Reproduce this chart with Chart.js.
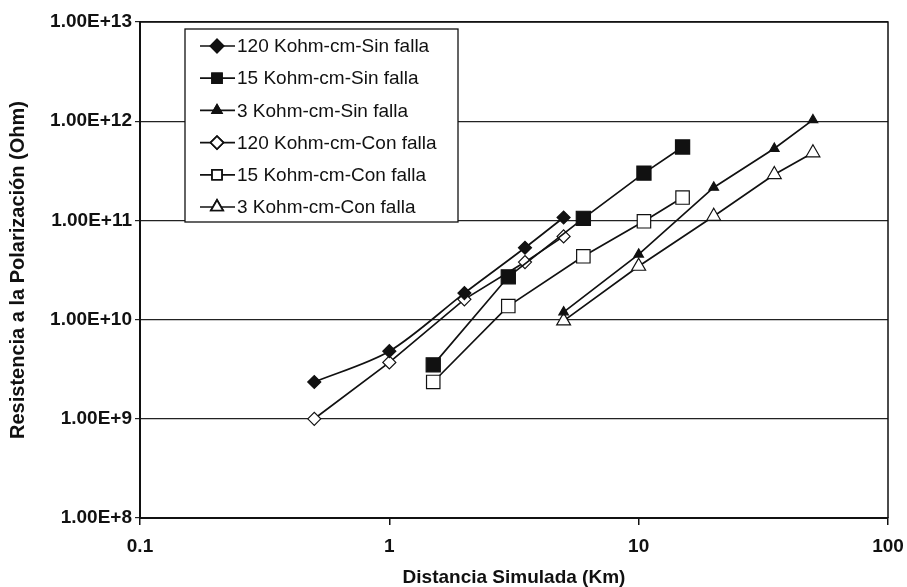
<!DOCTYPE html>
<html>
<head>
<meta charset="utf-8">
<script src="https://cdn.jsdelivr.net/npm/chart.js@4/dist/chart.umd.min.js"></script>
<style>
  html, body { margin: 0; padding: 0; background: #fff; }
  canvas { display: block; }
</style>
</head>
<body>
<canvas id="chart" width="907" height="587"></canvas>
<script>
// distancias (Km) y resistencias (Ohm)
const dist120 = [0.5, 1, 2, 3.5, 5];
const dist15 = [1.5, 3, 6, 10.5, 15];
const dist3 = [5, 10, 20, 35, 50];

const res120Sin = [2.35e9, 4.8e9, 1.85e10, 5.3e10, 1.07e11];
const res15Sin = [3.5e9, 2.7e10, 1.05e11, 3.0e11, 5.5e11];
const res3Sin = [1.19e10, 4.55e10, 2.15e11, 5.3e11, 1.03e12];
const res120Con = [1.0e9, 3.7e9, 1.6e10, 3.8e10, 6.9e10];
const res15Con = [2.35e9, 1.37e10, 4.35e10, 9.8e10, 1.7e11];
const res3Con = [9.7e9, 3.45e10, 1.1e11, 2.9e11, 4.8e11];

const seriesNames = [
    '120 Kohm-cm-Sin falla',
    '15 Kohm-cm-Sin falla',
    '3 Kohm-cm-Sin falla',
    '120 Kohm-cm-Con falla',
    '15 Kohm-cm-Con falla',
    '3 Kohm-cm-Con falla'
];

const xTicks = [0.1, 1, 10, 100];
const xTickLabels = ['0.1', '1', '10', '100'];
const yTicks = [1e8, 1e9, 1e10, 1e11, 1e12, 1e13];

const ink = '#111';

function pairs(xs, ys) {
    return xs.map((x, i) => ({ x: x, y: ys[i] }));
}

function makeSet(label, xs, ys, style, radius, filled, tension) {
    return {
        label: label,
        data: pairs(xs, ys),
        borderColor: ink,
        borderWidth: 1.7,
        pointStyle: style,
        pointRadius: radius,
        pointHoverRadius: radius,
        pointBackgroundColor: filled ? ink : '#fff',
        pointBorderColor: ink,
        pointBorderWidth: 1.2,
        tension: tension || 0,
        fill: false
    };
}

const datasets = [
    makeSet(seriesNames[0], dist120, res120Sin, 'rectRot', 6.5, true, 0.3),
    makeSet(seriesNames[1], dist15, res15Sin, 'rect', 10, true),
    makeSet(seriesNames[2], dist3, res3Sin, 'triangle', 5.5, true),
    makeSet(seriesNames[3], dist120, res120Con, 'rectRot', 6.5, false),
    makeSet(seriesNames[4], dist15, res15Con, 'rect', 9.5, false),
    makeSet(seriesNames[5], dist3, res3Con, 'triangle', 8, false)
];

// marco superior y derecho del area de trazado
const framePlugin = {
    id: 'frame',
    beforeDatasetsDraw(chart) {
        const a = chart.chartArea;
        const ctx = chart.ctx;
        ctx.save();
        ctx.strokeStyle = ink;
        ctx.lineWidth = 1.5;
        ctx.beginPath();
        ctx.moveTo(a.left, a.top);
        ctx.lineTo(a.right, a.top);
        ctx.lineTo(a.right, a.bottom);
        ctx.stroke();
        ctx.restore();
    }
};

// leyenda con recuadro, como en Excel
const boxLegend = {
    id: 'boxLegend',
    afterDraw(chart) {
        const ctx = chart.ctx;
        const left = 185, top = 29, right = 458, bottom = 222;
        const rowStep = 32.2, firstRow = 46;
        ctx.save();
        ctx.fillStyle = '#fff';
        ctx.fillRect(left, top, right - left, bottom - top);
        ctx.strokeStyle = ink;
        ctx.lineWidth = 1.3;
        ctx.strokeRect(left, top, right - left, bottom - top);
        ctx.font = '19px "Liberation Sans", Arial, sans-serif';
        ctx.textBaseline = 'middle';
        ctx.textAlign = 'left';
        chart.data.datasets.forEach((ds, i) => {
            const y = firstRow + i * rowStep;
            ctx.strokeStyle = ink;
            ctx.lineWidth = 1.7;
            ctx.beginPath();
            ctx.moveTo(200, y);
            ctx.lineTo(235, y);
            ctx.stroke();
            Chart.helpers.drawPoint(ctx, {
                pointStyle: ds.pointStyle,
                radius: Math.min(ds.pointRadius, 7),
                borderWidth: 1.2,
                rotation: 0
            }, 217, y);
            ctx.fillStyle = ds.pointBackgroundColor;
            ctx.strokeStyle = ink;
            ctx.fill();
            ctx.stroke();
            ctx.fillStyle = ink;
            ctx.fillText(ds.label, 237, y + 1);
        });
        ctx.restore();
    }
};

new Chart(document.getElementById('chart'), {
    type: 'line',
    data: { datasets: datasets },
    plugins: [framePlugin, boxLegend],
    options: {
        responsive: false,
        animation: false,
        devicePixelRatio: 1,
        layout: { padding: { top: 22, right: 19, left: 0, bottom: 0 } },
        plugins: {
            legend: { display: false },
            tooltip: { enabled: false }
        },
        scales: {
            x: {
                type: 'logarithmic',
                min: 0.1,
                max: 100,
                afterBuildTicks: (scale) => { scale.ticks = xTicks.map(v => ({ value: v })); },
                afterFit: (scale) => {
                    scale.height = 69;
                    scale.paddingLeft = 0;
                    scale.paddingRight = 0;
                },
                ticks: {
                    autoSkip: false,
                    maxRotation: 0,
                    padding: 10,
                    color: ink,
                    font: { family: '"Liberation Sans", Arial, sans-serif', size: 19, weight: 'bold' },
                    callback: (v) => {
                        const i = xTicks.findIndex(t => Math.abs(t - v) < v * 1e-6);
                        return i >= 0 ? xTickLabels[i] : '';
                    }
                },
                grid: { drawOnChartArea: false, drawTicks: true, tickLength: 7, color: ink, lineWidth: 1.5 },
                border: { display: true, color: ink, width: 2 },
                title: {
                    display: true,
                    text: 'Distancia Simulada (Km)',
                    color: ink,
                    font: { family: '"Liberation Sans", Arial, sans-serif', size: 19, weight: 'bold', lineHeight: 1 },
                    padding: { top: 0, bottom: 0 }
                }
            },
            y: {
                type: 'logarithmic',
                min: 1e8,
                max: 1e13,
                afterBuildTicks: (scale) => { scale.ticks = yTicks.map(v => ({ value: v })); },
                afterFit: (scale) => {
                    scale.width = 140;
                    scale.paddingTop = 0;
                    scale.paddingBottom = 0;
                },
                ticks: {
                    autoSkip: false,
                    padding: 3,
                    color: ink,
                    font: { family: '"Liberation Sans", Arial, sans-serif', size: 19, weight: 'bold' },
                    callback: (v) => Number(v).toExponential(2).toUpperCase()
                },
                grid: { color: '#222', lineWidth: 1.2, drawTicks: true, tickLength: 5 },
                border: { display: true, color: ink, width: 2 },
                title: {
                    display: true,
                    text: 'Resistencia a la Polarización (Ohm)',
                    color: ink,
                    font: { family: '"Liberation Sans", Arial, sans-serif', size: 20, weight: 'bold', lineHeight: 1.1 },
                    padding: { top: 7, bottom: 0 }
                }
            }
        }
    }
});
</script>
</body>
</html>
